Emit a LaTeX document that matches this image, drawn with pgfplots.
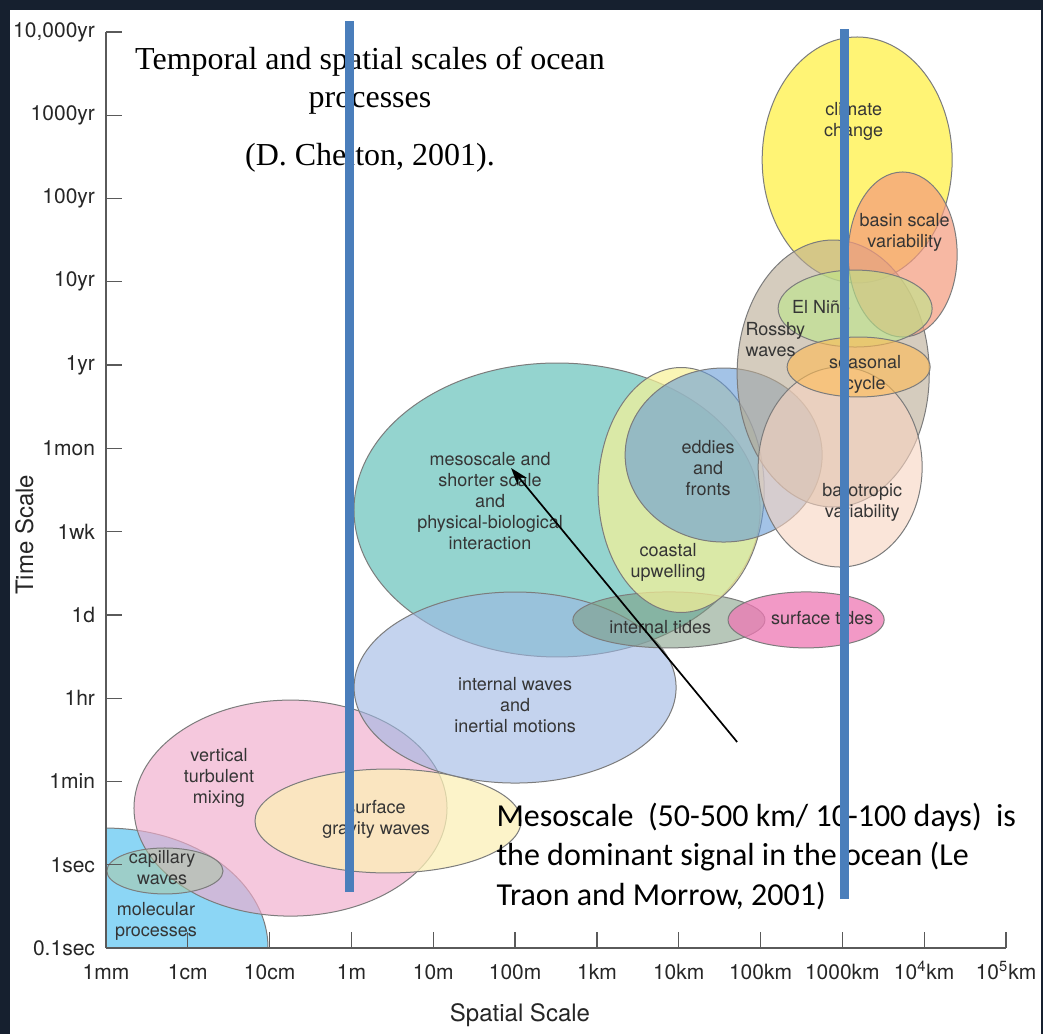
\documentclass[border=0pt]{standalone}
\usepackage{fontspec}
\setmainfont{TeX Gyre Heros}
\newfontfamily\titlefont{Liberation Serif}
\newfontfamily\notefont{Carlito}
\usepackage{pgfplots}
\pgfplotsset{compat=1.18}
\usetikzlibrary{arrows.meta}

\definecolor{framebg}{HTML}{16202F}
\definecolor{axisgrey}{HTML}{5A5A5A}
\definecolor{rim}{HTML}{7C7C7C}
\definecolor{lbl}{HTML}{353535}
\definecolor{marker}{HTML}{4A7EBB}
\definecolor{cMolec}{HTML}{8CD6F5}
\definecolor{cMixing}{HTML}{F1ACCC}
\definecolor{cCapil}{HTML}{AEC89F}
\definecolor{cGravity}{HTML}{FCF0B7}
\definecolor{cMeso}{HTML}{7ACAC3}
\definecolor{cIntWave}{HTML}{9DB7E3}
\definecolor{cIntTide}{HTML}{7C9A80}
\definecolor{cCoastal}{HTML}{F9F297}
\definecolor{cEddy}{HTML}{679BD7}
\definecolor{cSurfTide}{HTML}{EE78B4}
\definecolor{cClimate}{HTML}{FFF35D}
\definecolor{cRossby}{HTML}{B9AA93}
\definecolor{cBasin}{HTML}{F49A7C}
\definecolor{cBaro}{HTML}{F8D4C0}
\definecolor{cNino}{HTML}{BCE789}
\definecolor{cSeason}{HTML}{FFBB53}

\tikzset{
  proc/.style 2 args={draw=rim, line width=0.5pt, fill=#1, fill opacity=#2},
  lab/.style={text=lbl, font=\fontsize{9}{10.5}\selectfont, align=center, inner sep=0pt},
}

\begin{document}
\begin{tikzpicture}
\fill[framebg] (0,0) rectangle (521.5pt,517pt);
\fill[white] (5pt,0) rectangle (520.5pt,512pt);
\begin{axis}[
  at={(53pt,43pt)}, anchor=south west,
  scale only axis, width=450pt, height=458pt,
  xmin=0, xmax=11, ymin=0, ymax=11,
  clip=false, axis on top,
  axis lines=left,
  axis line style={axisgrey, line width=0.65pt, -},
  xtick={0,...,11}, ytick={0,...,11},
  xticklabels={1mm,1cm,10cm,1m,10m,100m,1km,10km,100km,1000km,10\textsuperscript{4}km,10\textsuperscript{5}km},
  yticklabels={0.1sec,1sec,1min,1hr,1d,1wk,1mon,1yr,10yr,100yr,1000yr,{10,000yr}},
  tick align=inside, major tick length=8pt,
  tick style={axisgrey, line width=0.65pt},
  ticklabel style={font=\fontsize{10.5}{12}\selectfont, text=black!85},
  xticklabel style={anchor=base, yshift=-15.5pt},
  yticklabel style={xshift=-2pt},
  xlabel={Spatial Scale}, ylabel={Time Scale},
  label style={font=\fontsize{12}{14}\selectfont, text=black!85},
  xlabel style={at={(axis description cs:0.46,-0.0797)}, anchor=base},
  ylabel style={at={(axis description cs:-0.0811,0.451)}, anchor=base},
]
% molecular processes sit in the corner of the axes
\begin{scope}
  \clip (axis cs:0,0) rectangle (axis cs:11,11);
  \path[proc={cMolec}{1}] (axis cs:0,0) ellipse [x radius=1.98, y radius=1.44];
\end{scope}
% small-scale processes
\path[proc={cMixing}{0.65}]  (axis cs:2.255,1.68)  ellipse [x radius=1.913, y radius=1.297];
\path[proc={cCapil}{0.5}]    (axis cs:0.72,0.925)  ellipse [x radius=0.71,  y radius=0.276];
\path[proc={cGravity}{0.75}] (axis cs:3.447,1.525) ellipse [x radius=1.626, y radius=0.624];
% mesoscale and internal motions
\path[proc={cMeso}{0.8}]     (axis cs:5.513,5.26)  ellipse [x radius=2.482, y radius=1.765];
\path[proc={cIntWave}{0.6}]  (axis cs:5.0,3.128)   ellipse [x radius=1.968, y radius=1.147];
\path[proc={cIntTide}{0.55}] (axis cs:6.88,3.94)   ellipse [x radius=1.174, y radius=0.336];
\path[proc={cCoastal}{0.7}]  (axis cs:7.03,5.50)   ellipse [x radius=1.015, y radius=1.471];
\path[proc={cEddy}{0.6}]     (axis cs:7.549,5.92)  ellipse [x radius=1.204, y radius=1.045];
\path[proc={cSurfTide}{0.75}](axis cs:8.557,3.94)  ellipse [x radius=0.954, y radius=0.336];
% basin and climate scales
\path[proc={cClimate}{0.85}] (axis cs:9.181,9.463) ellipse [x radius=1.161, y radius=1.477];
\path[proc={cRossby}{0.6}]   (axis cs:8.888,6.899) ellipse [x radius=1.174, y radius=1.603];
\path[proc={cBasin}{0.7}]    (axis cs:9.737,8.328) ellipse [x radius=0.666, y radius=0.991];
\path[proc={cBaro}{0.6}]     (axis cs:8.973,5.776) ellipse [x radius=1.002, y radius=1.201];
\path[proc={cNino}{0.6}]     (axis cs:9.156,7.679) ellipse [x radius=0.941, y radius=0.462];
\path[proc={cSeason}{0.6}]   (axis cs:9.199,6.977) ellipse [x radius=0.874, y radius=0.36];

% process names
\node[lab] at (axis cs:0.611,0.318) {molecular\\processes};
\node[lab] at (axis cs:0.685,0.967) {capillary\\waves};
\node[lab] at (axis cs:1.381,2.042) {vertical\\turbulent\\mixing};
\node[lab] at (axis cs:3.301,1.549) {surface\\gravity waves};
\node[lab] at (axis cs:5.0,2.918) {internal waves\\and\\inertial motions};
\node[lab] at (axis cs:4.694,5.368) {mesoscale and\\shorter scale\\and\\physical-biological\\interaction};
\node[lab] at (axis cs:6.773,3.855) {internal tides};
\node[lab] at (axis cs:8.753,3.963) {surface tides};
\node[lab] at (axis cs:6.870,4.636) {coastal\\upwelling};
\node[lab] at (axis cs:7.359,5.764) {eddies\\and\\fronts};
\node[lab] at (axis cs:9.242,5.350) {barotropic\\variability};
\node[lab] at (axis cs:9.279,6.887) {seasonal\\cycle};
\node[lab, align=left, anchor=west] at (axis cs:7.812,7.308) {Rossby\\waves};
\node[lab] at (axis cs:8.741,7.698) {El Niño};
\node[lab] at (axis cs:9.762,8.599) {basin scale\\variability};
\node[lab] at (axis cs:9.138,9.926) {climate\\change};

% title and note
\node[anchor=base, inner sep=0pt, font=\titlefont\fontsize{16}{19}\selectfont] at (axis cs:3.227,10.544) {Temporal and spatial scales of ocean};
\node[anchor=base, inner sep=0pt, font=\titlefont\fontsize{16}{19}\selectfont] at (axis cs:3.227,10.088) {processes};
\node[anchor=base, inner sep=0pt, font=\titlefont\fontsize{16}{19}\selectfont] at (axis cs:3.227,9.391) {(D. Chelton, 2001).};
\node[anchor=base west, inner sep=0pt, font=\notefont\fontsize{16}{19}\selectfont] at (axis cs:4.768,1.457) {Mesoscale\ \ (50-500 km/ 10-100 days)\ \ is};
\node[anchor=base west, inner sep=0pt, font=\notefont\fontsize{16}{19}\selectfont] at (axis cs:4.768,0.985) {the dominant signal in the ocean (Le};
\node[anchor=base west, inner sep=0pt, font=\notefont\fontsize{16}{19}\selectfont] at (axis cs:4.768,0.516) {Traon and Morrow, 2001)};

% pointer to the mesoscale band
\addplot[black, line width=0.85pt, -{Stealth[length=9pt, width=6pt]}] coordinates {(7.714,2.474) (4.951,5.764)};
% 1 m and 1000 km markers
\addplot[marker, line width=4.5pt] coordinates {(2.977,0.672) (2.977,11.136)};
\addplot[marker, line width=4.5pt] coordinates {(9.028,0.588) (9.028,11.036)};
\end{axis}
\pgfresetboundingbox
\path[use as bounding box] (0,0) rectangle (521.5pt,517pt);
\end{tikzpicture}
\end{document}
